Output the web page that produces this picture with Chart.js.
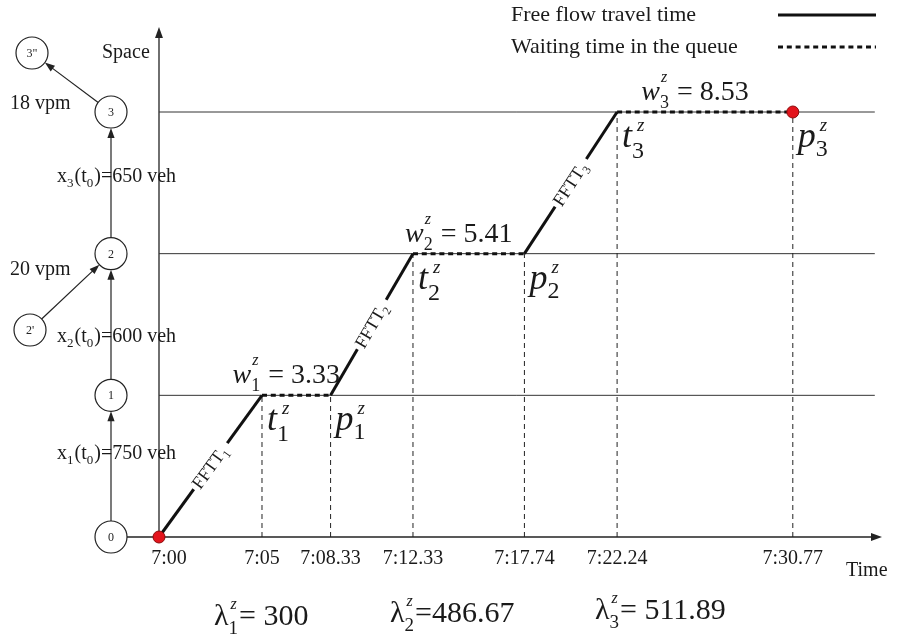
<!DOCTYPE html>
<html>
<head>
<meta charset="utf-8">
<script src="https://cdn.jsdelivr.net/npm/chart.js@4.4.0/dist/chart.umd.min.js"></script>
<style>
body{margin:0;background:#fff;}
canvas{display:block;}
</style>
</head>
<body>
<canvas id="myChart" width="902" height="635"></canvas>
<script>
// minutes after 7:00 for each event and the space level (node) reached
var times = [0, 5, 8.33, 12.33, 17.74, 22.24, 30.77];
var timeLabels = ['7:00', '7:05', '7:08.33', '7:12.33', '7:17.74', '7:22.24', '7:30.77'];
var levels = [0, 1, 1, 2, 2, 3, 3];
var waits = ['3.33', '5.41', '8.53'];
var lambdas = ['= 300', '=486.67', '= 511.89'];
var vehicles = ['750', '600', '650'];
var rampFlows = ['20 vpm', '18 vpm'];
var nodes = ['0', '1', '2', '3'];
var lineEnd = 34.75;

var FONT = '"Liberation Serif", "Times New Roman", serif';

function font(s, it) {
    return (it ? 'italic ' : '') + s + 'px ' + FONT;
}

// text with sub/superscripts, items = [{t,s,i}] or [{sub,sup,s,ss,sb,sp,dx}]
function rich(ctx, x, y, items, align) {
    var total = 0;
    for (var i = 0; i < items.length; i++) {
        var it = items[i];
        if (it.t !== undefined) {
            ctx.font = font(it.s, it.i);
            it.w = ctx.measureText(it.t).width;
        } else {
            var w1 = 0, w2 = 0;
            if (it.sub) { ctx.font = font(it.s, false); w1 = ctx.measureText(it.sub).width; }
            if (it.sup) { ctx.font = font(it.ss || it.s, true); w2 = ctx.measureText(it.sup).width + (it.dx || 0); }
            it.w = Math.max(w1, w2) + 1;
        }
        total += it.w;
    }
    var cx = align === 'center' ? x - total / 2 : x;
    ctx.textAlign = 'left';
    ctx.textBaseline = 'alphabetic';
    for (var j = 0; j < items.length; j++) {
        var p = items[j];
        if (p.t !== undefined) {
            ctx.font = font(p.s, p.i);
            ctx.fillText(p.t, cx, y);
        } else {
            if (p.sub) { ctx.font = font(p.s, false); ctx.fillText(p.sub, cx, y + p.sb); }
            if (p.sup) { ctx.font = font(p.ss || p.s, true); ctx.fillText(p.sup, cx + (p.dx || 0), y + p.sp); }
        }
        cx += p.w;
    }
    return total;
}

function arrow(ctx, x1, y1, x2, y2, head) {
    var a = Math.atan2(y2 - y1, x2 - x1);
    ctx.beginPath();
    ctx.moveTo(x1, y1);
    ctx.lineTo(x2 - head * 0.8 * Math.cos(a), y2 - head * 0.8 * Math.sin(a));
    ctx.stroke();
    ctx.beginPath();
    ctx.moveTo(x2, y2);
    ctx.lineTo(x2 - head * Math.cos(a) + head * 0.36 * Math.sin(a), y2 - head * Math.sin(a) - head * 0.36 * Math.cos(a));
    ctx.lineTo(x2 - head * Math.cos(a) - head * 0.36 * Math.sin(a), y2 - head * Math.sin(a) + head * 0.36 * Math.cos(a));
    ctx.closePath();
    ctx.fill();
}

function circleEdge(a, b, r) {
    var d = Math.hypot(b.x - a.x, b.y - a.y);
    return { x: a.x + (b.x - a.x) * r / d, y: a.y + (b.y - a.y) * r / d };
}

var trajectory = [];
for (var i = 0; i < times.length; i++) trajectory.push({ x: times[i], y: levels[i] });

var datasets = [];
datasets.push({
    type: 'scatter',
    data: [trajectory[0], trajectory[trajectory.length - 1]],
    pointRadius: 6,
    backgroundColor: '#e3141c',
    borderColor: '#8a0a0a',
    borderWidth: 1,
    clip: false,
    order: 0
});
datasets.push({
    type: 'line',
    data: trajectory,
    borderColor: '#111',
    borderWidth: 3,
    pointRadius: 0,
    clip: false,
    order: 1,
    segment: {
        borderDash: function (c) { return c.p0.parsed.y === c.p1.parsed.y ? [5, 3.8] : undefined; }
    }
});
for (var g = 1; g < times.length; g++) {
    datasets.push({
        type: 'line',
        data: [{ x: times[g], y: 0 }, { x: times[g], y: levels[g] }],
        borderColor: '#222',
        borderWidth: 1,
        borderDash: [5, 4],
        pointRadius: 0,
        clip: false,
        order: 2
    });
}
for (var l = 1; l <= 3; l++) {
    datasets.push({
        type: 'line',
        data: [{ x: 0, y: l }, { x: lineEnd, y: l }],
        borderColor: '#333',
        borderWidth: 1,
        pointRadius: 0,
        clip: false,
        order: 3
    });
}

var extras = {
    id: 'extras',
    beforeDatasetsDraw: function (chart) {
        var ctx = chart.ctx, xs = chart.scales.x, ys = chart.scales.y, area = chart.chartArea;
        ctx.save();
        ctx.strokeStyle = '#222';
        ctx.fillStyle = '#222';
        ctx.lineWidth = 1.3;
        var x0 = xs.getPixelForValue(0), y0 = ys.getPixelForValue(0);
        // axes
        arrow(ctx, x0, y0, x0, area.top, 11);
        arrow(ctx, 127, y0, area.right, y0, 11);
        // network of nodes on the left
        var nx = 111, r = 16;
        var pos = [];
        for (var n = 0; n < nodes.length; n++) pos.push({ x: nx, y: ys.getPixelForValue(n) });
        var n2 = { x: 30, y: 330 }, n3 = { x: 32, y: 53 };
        ctx.lineWidth = 1.2;
        for (var k = 0; k < 3; k++) {
            arrow(ctx, nx, pos[k].y - r, nx, pos[k + 1].y + r, 10);
        }
        var a = circleEdge(n2, pos[2], r), b = circleEdge(pos[2], n2, r);
        arrow(ctx, a.x, a.y, b.x, b.y, 10);
        a = circleEdge(pos[3], n3, r); b = circleEdge(n3, pos[3], r);
        arrow(ctx, a.x, a.y, b.x, b.y, 10);
        var all = pos.concat([n2, n3]);
        var names = nodes.concat(["2'", '3"']);
        for (var m = 0; m < all.length; m++) {
            ctx.beginPath();
            ctx.arc(all[m].x, all[m].y, r, 0, Math.PI * 2);
            ctx.fillStyle = '#fff';
            ctx.fill();
            ctx.stroke();
            ctx.fillStyle = '#222';
            ctx.font = font(12, false);
            ctx.textAlign = 'center';
            ctx.textBaseline = 'middle';
            ctx.fillText(names[m], all[m].x, all[m].y + 1);
        }
        ctx.restore();
    },
    afterDatasetsDraw: function (chart) {
        var ctx = chart.ctx, xs = chart.scales.x, ys = chart.scales.y;
        ctx.save();
        ctx.fillStyle = '#1a1a1a';
        // FFTT labels on the travel segments
        for (var k = 0; k < 3; k++) {
            var p0 = { x: xs.getPixelForValue(times[2 * k]), y: ys.getPixelForValue(levels[2 * k]) };
            var p1 = { x: xs.getPixelForValue(times[2 * k + 1]), y: ys.getPixelForValue(levels[2 * k + 1]) };
            var ang = Math.atan2(p1.y - p0.y, p1.x - p0.x);
            ctx.save();
            ctx.translate((p0.x + p1.x) / 2, (p0.y + p1.y) / 2);
            ctx.rotate(ang);
            ctx.font = font(18, false);
            var tw = ctx.measureText('FFTT').width + 9;
            ctx.fillStyle = '#fff';
            ctx.fillRect(-tw / 2 - 3, -5, tw + 6, 10);
            ctx.fillStyle = '#1a1a1a';
            rich(ctx, -tw / 2, 6, [{ t: 'FFTT', s: 18 }, { sub: String(k + 1), s: 12, sb: 4 }], 'left');
            ctx.restore();
        }
        // w, t, p labels
        for (var q = 0; q < 3; q++) {
            var ta = xs.getPixelForValue(times[2 * q + 1]);
            var pa = xs.getPixelForValue(times[2 * q + 2]);
            var ly = ys.getPixelForValue(levels[2 * q + 1]);
            rich(ctx, (ta + pa) / 2 - 10, ly - 12, [
                { t: 'w', s: 28, i: true },
                { sub: String(q + 1), sup: 'z', s: 18, ss: 16, sb: 8, sp: -18, dx: 1 },
                { t: ' = ' + waits[q], s: 28 }
            ], 'center');
            rich(ctx, ta + 5, ly + 35, [
                { t: 't', s: 36, i: true },
                { sub: String(q + 1), sup: 'z', s: 24, ss: 19, sb: 11, sp: -16, dx: 5 }
            ], 'left');
            rich(ctx, pa + 5, ly + 35, [
                { t: 'p', s: 36, i: true },
                { sub: String(q + 1), sup: 'z', s: 24, ss: 19, sb: 9, sp: -16, dx: 4 }
            ], 'left');
        }
        // time tick labels
        ctx.font = font(20, false);
        ctx.textAlign = 'center';
        ctx.textBaseline = 'alphabetic';
        for (var t = 0; t < times.length; t++) {
            var tx = xs.getPixelForValue(times[t]);
            if (t === 0) tx += 10;
            ctx.fillText(timeLabels[t], tx, 564);
        }
        ctx.textAlign = 'left';
        ctx.textBaseline = 'middle';
        ctx.fillText('Time', 846, 571);
        ctx.fillText('Space', 102, 53);
        // arrival rates
        var lx = [214, 390, 595], lyb = [625, 622, 619];
        for (var z = 0; z < 3; z++) {
            rich(ctx, lx[z], lyb[z], [
                { t: 'λ', s: 30 },
                { sub: String(z + 1), sup: 'z', s: 19, ss: 16, sb: 9, sp: -16, dx: 2 },
                { t: lambdas[z], s: 30 }
            ], 'left');
        }
        // node annotations
        var vy = [459, 342, 182];
        for (var v = 0; v < 3; v++) {
            rich(ctx, 57, vy[v], [
                { t: 'x', s: 20 }, { sub: String(v + 1), s: 13, sb: 5 },
                { t: '(t', s: 20 }, { sub: '0', s: 13, sb: 5 },
                { t: ')=' + vehicles[v] + ' veh', s: 20 }
            ], 'left');
        }
        ctx.font = font(20, false);
        ctx.textBaseline = 'middle';
        ctx.fillText(rampFlows[0], 10, 270);
        ctx.fillText(rampFlows[1], 10, 104);
        // legend
        ctx.font = font(22, false);
        ctx.fillText('Free flow travel time', 511, 15);
        ctx.fillText('Waiting time in the queue', 511, 47);
        ctx.strokeStyle = '#111';
        ctx.lineWidth = 3;
        ctx.beginPath();
        ctx.moveTo(778, 15);
        ctx.lineTo(876, 15);
        ctx.stroke();
        ctx.setLineDash([5, 3.8]);
        ctx.beginPath();
        ctx.moveTo(778, 47);
        ctx.lineTo(876, 47);
        ctx.stroke();
        ctx.restore();
    }
};

var myChart = new Chart(document.getElementById('myChart'), {
    type: 'line',
    data: { datasets: datasets },
    options: {
        responsive: false,
        animation: false,
        layout: { padding: { left: 159, right: 20, top: 27, bottom: 98 } },
        scales: {
            x: { type: 'linear', min: 0, max: 35.1, display: false },
            y: { type: 'linear', min: 0, max: 3.6, display: false }
        },
        plugins: {
            legend: { display: false },
            tooltip: { enabled: false }
        }
    },
    plugins: [extras]
});
</script>
</body>
</html>
